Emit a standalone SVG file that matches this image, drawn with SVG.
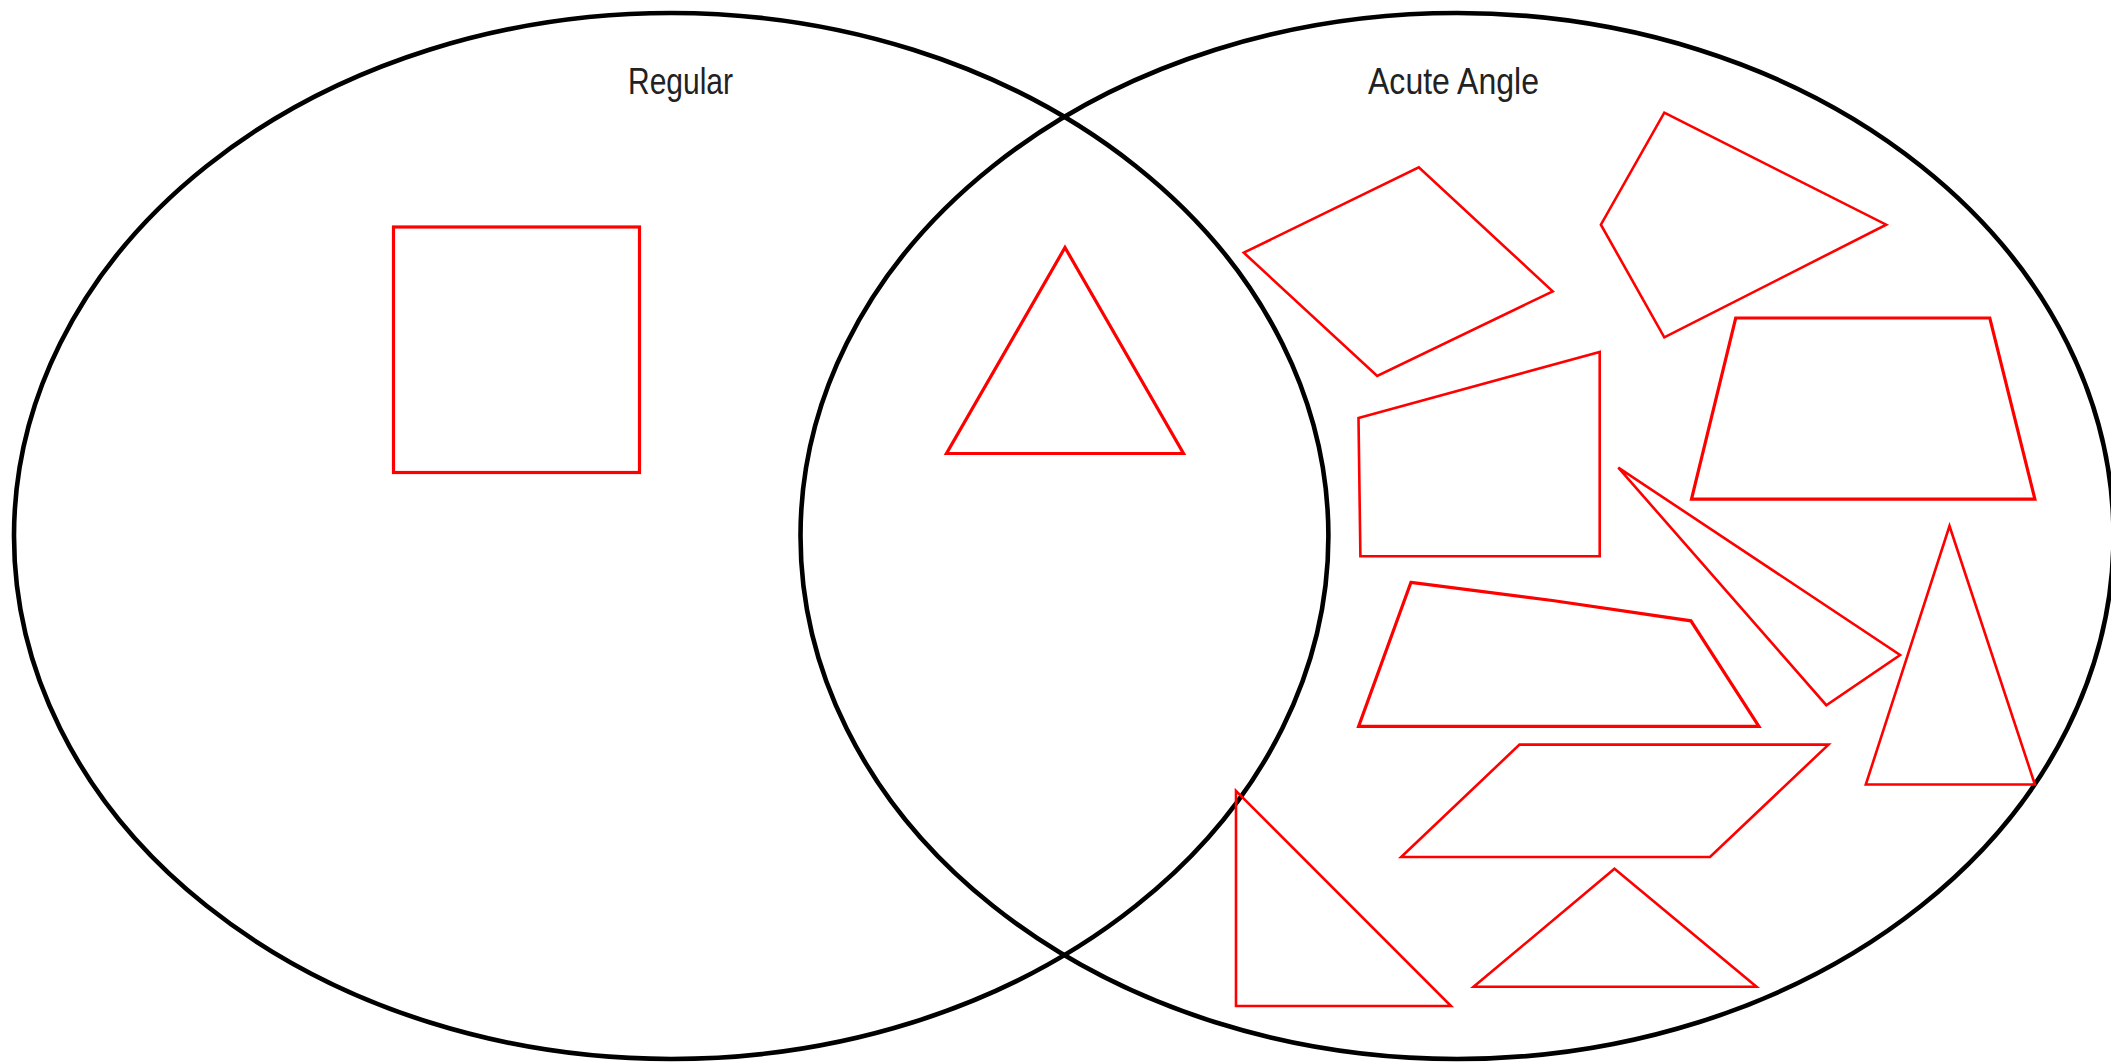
<svg xmlns="http://www.w3.org/2000/svg" width="2111" height="1062" viewBox="0 0 2111 1062">
<style>
.set{fill:none;stroke:#000;stroke-width:4.6}
.shape{fill:none;stroke:#ff0000;stroke-width:2.6;stroke-linejoin:miter}
.thick{stroke-width:3.2}
.label{font-family:"Liberation Sans",Arial,sans-serif;font-size:36px;fill:#222}
</style>
<rect width="2111" height="1062" fill="#fff"/>
<g id="sets">
<g id="set-regular"><ellipse class="set" cx="671.2" cy="536" rx="657.2" ry="523"/></g>
<g id="set-acute"><ellipse class="set" cx="1457" cy="536" rx="656.5" ry="523"/></g>
</g>
<g id="labels">
<text id="label-regular" class="label" x="628" y="94" textLength="105" lengthAdjust="spacingAndGlyphs">Regular</text>
<text id="label-acute" class="label" x="1368" y="94" textLength="171" lengthAdjust="spacingAndGlyphs">Acute Angle</text>
</g>
<g id="connectors"></g>
<g id="shapes">
<g id="square"><rect class="shape thick" x="393.5" y="227" width="246" height="245.5"/></g>
<g id="equilateral-triangle"><polygon class="shape thick" points="1065,247.5 1183.5,453.5 946.5,453.5"/></g>
<g id="rhombus"><polygon class="shape" points="1243.8,252.7 1418.8,167.3 1552.7,291.3 1377.2,376"/></g>
<g id="kite"><polygon class="shape" points="1664.3,112.7 1886.2,224.7 1664.3,337.3 1600.9,224.7"/></g>
<g id="quadrilateral"><polygon class="shape" points="1358.5,418 1599.7,352 1599.7,556.2 1360.4,556.2"/></g>
<g id="trapezium"><polygon class="shape thick" points="1735.7,318 1989.8,318 2034.9,499.2 1691.5,499.2"/></g>
<g id="thin-triangle"><polygon class="shape" points="1618.3,467.6 1900.1,655 1826.3,705.2"/></g>
<g id="irregular-quad"><polygon class="shape thick" points="1410.9,582.4 1552.3,600.5 1690.9,620.8 1758.9,726.4 1358.6,726.4"/></g>
<g id="isosceles-triangle"><polygon class="shape" points="1949.5,526 2034.9,784.5 1865.8,784.5"/></g>
<g id="parallelogram"><polygon class="shape" points="1519.5,744.6 1828.5,744.6 1710,857 1401.2,857"/></g>
<g id="right-triangle"><polygon class="shape" points="1236,790.8 1451,1006 1236,1006"/></g>
<g id="obtuse-triangle"><polygon class="shape" points="1614.5,868.8 1756.5,986.8 1473.6,986.8"/></g>
</g>
</svg>
